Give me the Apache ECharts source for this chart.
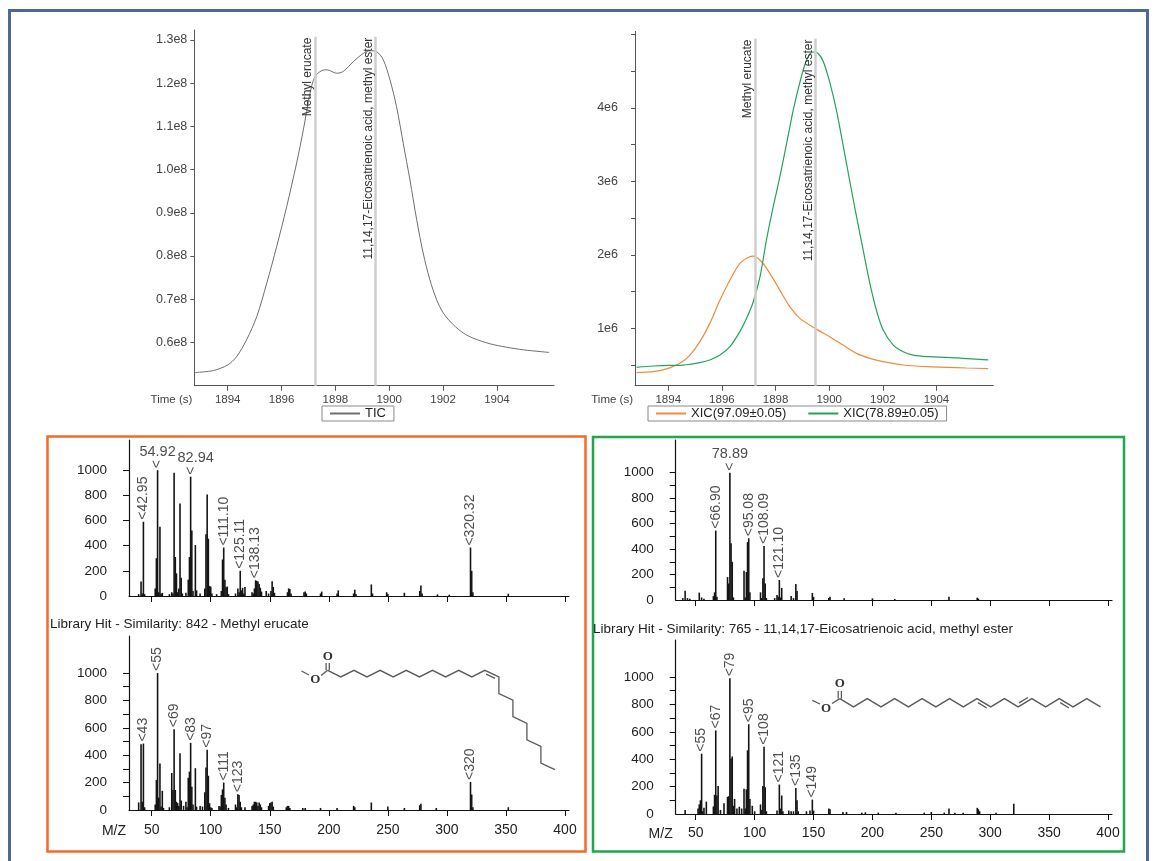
<!DOCTYPE html>
<html><head><meta charset="utf-8">
<script src="https://cdn.jsdelivr.net/npm/echarts@6/dist/echarts.min.js"></script>
<style>html,body{margin:0;padding:0;background:#fff}#c{width:1156px;height:861px}</style>
</head><body><div id="c"></div>
<script>
// ---------- chromatograms ----------
const ticTime = [1892.79,1893.47,1894.0,1894.33,1894.7,1895.08,1895.45,1895.82,1896.19,1896.56,1896.81,1897.06,1897.24,1897.49,1897.68,1898.05,1898.29,1898.67,1899.04,1899.28,1899.53,1899.78,1900.03,1900.27,1900.52,1900.77,1901.02,1901.26,1901.51,1901.76,1902.01,1902.38,1902.75,1903.12,1903.74,1904.36,1904.98,1905.6,1905.94];
const ticValue = [0.5305,0.535,0.548,0.567,0.606,0.66,0.737,0.822,0.914,1.015,1.092,1.177,1.215,1.229,1.231,1.223,1.227,1.25,1.269,1.275,1.273,1.254,1.207,1.146,1.061,0.976,0.884,0.807,0.745,0.699,0.668,0.641,0.622,0.610,0.597,0.589,0.583,0.579,0.577]; // x1e8

const xic97Time = [1892.82,1893.44,1894.0,1894.43,1894.81,1895.18,1895.55,1895.93,1896.30,1896.67,1896.98,1897.17,1897.48,1897.79,1898.16,1898.53,1898.91,1899.47,1900.02,1900.52,1901.02,1901.52,1902.01,1902.76,1903.63,1904.37,1905.12,1905.93];
const xic97Value = [0.397,0.411,0.456,0.524,0.637,0.819,1.068,1.385,1.657,1.884,1.965,1.983,1.906,1.748,1.521,1.295,1.136,1.0,0.887,0.773,0.66,0.592,0.547,0.502,0.479,0.470,0.461,0.452]; // x1e6

const xic78Time = [1892.82,1893.44,1894.0,1894.43,1894.81,1895.18,1895.55,1895.93,1896.30,1896.67,1896.92,1897.17,1897.42,1897.66,1897.91,1898.16,1898.41,1898.66,1898.91,1899.16,1899.40,1899.59,1899.78,1900.02,1900.27,1900.52,1900.77,1901.02,1901.27,1901.52,1901.76,1902.01,1902.39,1902.76,1903.13,1903.75,1904.37,1904.99,1905.61,1905.93];
const xic78Value = [0.47,0.488,0.497,0.497,0.511,0.533,0.57,0.637,0.751,0.955,1.136,1.362,1.70,2.2,2.65,3.06,3.51,3.97,4.35,4.65,4.76,4.74,4.63,4.35,3.97,3.49,3.0,2.52,2.06,1.61,1.25,0.98,0.773,0.683,0.637,0.615,0.606,0.592,0.579,0.57]; // x1e6

const markerTimes = [1897.24, 1899.48];
const markerNames = ['Methyl erucate', '11,14,17-Eicosatrienoic acid, methyl ester'];

const timeTicks = [1894,1896,1898,1900,1902,1904];
const ticTicks = [0.6,0.7,0.8,0.9,1.0,1.1,1.2,1.3];
const xicTicks = [0.5,1,1.5,2,2.5,3,3.5,4,4.5,5];
const xicTickLabels = [1,2,3,4];

// ---------- mass spectra [m/z, intensity] ----------
const erucateMeasured = [[39,15],[41,115],[42,20],[43,590],[44,15],[53,60],[54,300],[55,1000],[56,30],[57,550],[58,20],[59,25],[65,15],[67,30],[68,20],[69,980],[70,310],[71,180],[72,30],[73,60],[74,735],[75,145],[76,20],[79,25],[81,130],[82,310],[83,948],[84,520],[85,40],[87,405],[88,45],[91,20],[95,60],[96,490],[97,806],[98,455],[99,80],[100,75],[101,20],[105,15],[109,40],[110,290],[111,385],[112,130],[113,70],[114,75],[115,15],[121,20],[123,60],[124,30],[125,200],[126,45],[127,65],[128,20],[129,72],[135,30],[136,20],[137,60],[138,125],[139,120],[140,115],[141,95],[142,65],[143,35],[147,40],[149,20],[151,40],[152,118],[153,72],[154,25],[165,30],[166,60],[167,55],[168,20],[179,30],[180,35],[181,20],[193,20],[194,35],[207,20],[208,45],[221,20],[222,50],[223,15],[236,92],[237,20],[249,30],[250,15],[264,26],[277,40],[278,84],[279,20],[292,13],[302,10],[320,385],[321,200],[322,30],[352,18]];
const erucateMeasuredRot = [[43,'42.95'],[111,'111.10'],[125,'125.11'],[138,'138.13'],[320,'320.32']];
const erucateMeasuredHor = [[55,'54.92'],[83,'82.94']];

const erucateLibrary = [[39,55],[41,480],[42,60],[43,485],[44,20],[53,40],[54,220],[55,1000],[56,90],[57,340],[58,25],[59,140],[60,15],[65,20],[67,270],[68,146],[69,590],[70,146],[71,60],[72,50],[73,30],[74,415],[75,70],[77,30],[79,60],[80,20],[81,235],[82,280],[83,490],[84,170],[85,40],[87,305],[88,25],[91,30],[93,25],[95,130],[96,310],[97,440],[98,250],[99,50],[100,20],[101,15],[107,30],[108,25],[109,110],[110,150],[111,200],[112,90],[113,40],[115,15],[121,40],[122,20],[123,115],[124,110],[125,60],[126,20],[129,20],[135,30],[136,40],[137,60],[138,60],[139,55],[140,30],[141,55],[142,40],[143,20],[149,30],[150,50],[151,55],[152,60],[153,25],[164,20],[165,30],[166,30],[167,15],[178,15],[180,15],[193,15],[207,15],[221,30],[222,20],[236,55],[250,25],[264,15],[277,35],[278,45],[291,15],[320,205],[321,113],[322,20],[352,20]];
const erucateLibraryRot = [[43,'43'],[55,'55'],[69,'69'],[83,'83'],[97,'97'],[111,'111'],[123,'123'],[320,'320']];
const erucateLibraryHor = [];

const eicosaMeasured = [[39,15],[41,73],[43,15],[45,10],[53,58],[55,20],[57,10],[65,30],[66,60],[67,545],[68,25],[77,180],[78,130],[79,1000],[80,445],[81,300],[82,20],[91,230],[92,20],[93,220],[94,455],[95,485],[96,60],[105,60],[106,15],[107,170],[108,425],[109,130],[110,15],[117,15],[119,40],[120,25],[121,157],[122,20],[123,95],[131,31],[133,15],[135,125],[136,70],[149,55],[150,25],[163,15],[164,26],[176,13],[200,13],[219,8],[265,26],[289,18],[290,10]];
const eicosaMeasuredRot = [[67,'66.90'],[95,'95.08'],[108,'108.09'],[121,'121.10']];
const eicosaMeasuredHor = [[79,'78.89']];

const eicosaLibrary = [[41,30],[52,41],[53,70],[54,100],[55,440],[56,20],[57,45],[59,90],[65,55],[66,140],[67,610],[68,135],[69,205],[71,30],[74,78],[77,125],[78,130],[79,990],[80,405],[81,420],[82,60],[83,110],[85,40],[87,53],[89,40],[91,185],[92,40],[93,180],[94,465],[95,655],[96,110],[98,60],[100,20],[105,70],[106,30],[107,205],[108,490],[109,195],[110,20],[119,25],[121,215],[122,40],[123,135],[124,20],[129,25],[131,20],[133,20],[135,190],[136,100],[137,20],[144,20],[147,25],[149,105],[150,25],[163,40],[164,35],[175,15],[178,15],[191,10],[194,12],[205,10],[220,10],[244,10],[250,15],[261,10],[265,40],[270,10],[277,10],[289,45],[290,35],[291,20],[305,10],[320,75]];
const eicosaLibraryRot = [[55,'55'],[67,'67'],[79,'79'],[95,'95'],[108,'108'],[121,'121'],[135,'135'],[149,'149']];
const eicosaLibraryHor = [];

const mzTicks = [50,100,150,200,250,300,350,400];
const intLabels = [0,200,400,600,800,1000];
const intTicksCoarse = [200,400,600,800,1000];
const intTicksFine = [100,200,300,400,500,600,700,800,900,1000];

const titleLeft = 'Library Hit - Similarity: 842 - Methyl erucate';
const titleRight = 'Library Hit - Similarity: 765 - 11,14,17-Eicosatrienoic acid, methyl ester';

// ---------- build ----------
const FONT = '"Liberation Sans", Arial, sans-serif';
const horizOffset = {'82.94':[5,0]};
const plain = v => String(v);

const grids = [
  {left:194.3, top:30, width:359.7, height:355.7},
  {left:635, top:31.4, width:358.3, height:354.3},
  {left:129, top:440, width:440, height:156},
  {left:129, top:636, width:440, height:174},
  {left:675.7, top:440, width:436.3, height:160},
  {left:675.7, top:640, width:436.3, height:174}
];

function timeAxis(gi){
  return {type:'value', gridIndex:gi, min:1892.76, max:1906.12,
    axisLine:{show:true, onZero:false, lineStyle:{color:'#555', width:1}},
    axisTick:{show:true, customValues:timeTicks, length:5, lineStyle:{color:'#555'}},
    axisLabel:{customValues:timeTicks, formatter:plain, fontSize:11.5, color:'#444', margin:8, fontFamily:FONT},
    splitLine:{show:false},
    name:'Time (s)', nameLocation:'start', nameGap:2,
    nameTextStyle:{fontSize:11.5, color:'#444', fontFamily:FONT, verticalAlign:'top', padding:[8,0,0,0]}};
}

const xAxes = [timeAxis(0), timeAxis(1)];
const yAxes = [
  {type:'value', gridIndex:0, min:0.5, max:1.323,
    axisLine:{show:true, lineStyle:{color:'#555'}},
    axisTick:{show:true, customValues:ticTicks, length:4, lineStyle:{color:'#555'}},
    axisLabel:{customValues:ticTicks, formatter:v=>v.toFixed(1)+'e8', fontSize:12.5, color:'#444', margin:7, fontFamily:FONT},
    splitLine:{show:false}},
  {type:'value', gridIndex:1, min:0.22, max:5.04,
    axisLine:{show:true, lineStyle:{color:'#555'}},
    axisTick:{show:true, customValues:xicTicks, length:4, lineStyle:{color:'#555'}},
    axisLabel:{customValues:xicTickLabels, formatter:v=>v+'e6', fontSize:12.5, color:'#444', margin:17, fontFamily:FONT},
    splitLine:{show:false}}
];

function markLineFor(bottom, top){
  return {symbol:['none','none'], silent:true, animation:false,
    lineStyle:{color:'#cfcfcf', width:2.5, type:'solid'},
    label:{show:true, position:'insideEndTop', distance:1, formatter:'{b}', color:'#333', fontSize:12, fontFamily:FONT},
    data: markerTimes.map((t,i)=>[{coord:[t, bottom], name:markerNames[i]}, {coord:[t, top]}])};
}

const series = [
  {name:'TIC', type:'line', xAxisIndex:0, yAxisIndex:0, showSymbol:false, smooth:0.3,
    data: ticTime.map((t,i)=>[t, ticValue[i]]), lineStyle:{color:'#6e6e6e', width:1}, itemStyle:{color:'#6e6e6e'},
    markLine: markLineFor(0.5, 1.3076)},
  {name:'XIC(97.09±0.05)', type:'line', xAxisIndex:1, yAxisIndex:1, showSymbol:false, smooth:0.3,
    data: xic97Time.map((t,i)=>[t, xic97Value[i]]), lineStyle:{color:'#f28a3c', width:1.2}, itemStyle:{color:'#f28a3c'}, z:3},
  {name:'XIC(78.89±0.05)', type:'line', xAxisIndex:1, yAxisIndex:1, showSymbol:false, smooth:0.3,
    data: xic78Time.map((t,i)=>[t, xic78Value[i]]), lineStyle:{color:'#22a45a', width:1.2}, itemStyle:{color:'#22a45a'}, z:3,
    markLine: markLineFor(0.22, 4.944)}
];

const specs = [
  {gi:2, min:30.8, max:403.4, ymax:1240, data:erucateMeasured, rot:erucateMeasuredRot, hor:erucateMeasuredHor, ticks:intTicksCoarse, xlabels:false},
  {gi:3, min:30.8, max:403.4, ymax:1270, data:erucateLibrary, rot:erucateLibraryRot, hor:erucateLibraryHor, ticks:intTicksFine, xlabels:true, margin:13},
  {gi:4, min:33, max:403.4, ymax:1257, data:eicosaMeasured, rot:eicosaMeasuredRot, hor:eicosaMeasuredHor, ticks:intTicksFine, xlabels:false},
  {gi:5, min:33, max:403.4, ymax:1270, data:eicosaLibrary, rot:eicosaLibraryRot, hor:eicosaLibraryHor, ticks:intTicksFine, xlabels:true, margin:12}
];

specs.forEach((s, k)=>{
  const ai = 2 + k;
  xAxes.push({type:'value', gridIndex:s.gi, min:s.min, max:s.max,
    axisLine:{show:true, onZero:false, lineStyle:{color:'#111', width:1.2}},
    axisTick:{show:true, customValues:mzTicks, length:6, lineStyle:{color:'#111'}},
    axisLabel:{show:s.xlabels, customValues:mzTicks, formatter:plain, fontSize:14, color:'#222', margin:s.margin||12, fontFamily:FONT},
    splitLine:{show:false},
    name: s.xlabels ? 'M/Z' : '', nameLocation:'start', nameGap:3,
    nameTextStyle:{fontSize:14, color:'#222', fontFamily:FONT, verticalAlign:'top', padding:[(s.margin||12)+1,0,0,0]}});
  yAxes.push({type:'value', gridIndex:s.gi, min:0, max:s.ymax,
    axisLine:{show:true, lineStyle:{color:'#111', width:1.2}},
    axisTick:{show:true, customValues:s.ticks, length:6, lineStyle:{color:'#111'}},
    axisLabel:{customValues:intLabels, formatter:plain, fontSize:13.5, color:'#222', margin:22, fontFamily:FONT},
    splitLine:{show:false}});
  const lookup = mz => (s.data.find(p=>p[0]===mz)||[mz,0])[1];
  series.push({name:'spec'+k, type:'bar', xAxisIndex:ai, yAxisIndex:ai, barWidth:1.6, silent:true,
    itemStyle:{color:'#151515'}, data:s.data});
  const rotItems = s.rot.map(([mz,t])=>({value:[mz, lookup(mz)], name:'<'+t}))
    .concat(s.hor.map(([mz,t])=>({value:[mz, lookup(mz)], name:'<'})));
  series.push({name:'rot'+k, type:'scatter', xAxisIndex:ai, yAxisIndex:ai, symbolSize:0, silent:true, z:5,
    data: rotItems,
    label:{show:true, position:'top', distance:2, rotate:90, align:'left', verticalAlign:'middle',
      formatter:p=>p.name, fontSize:14, color:'#222', fontFamily:FONT}});
  if (s.hor.length){
    series.push({name:'hor'+k, type:'scatter', xAxisIndex:ai, yAxisIndex:ai, symbolSize:0, silent:true, z:5,
      data: s.hor.map(([mz,t])=>({value:[mz, lookup(mz)], name:t, label:{offset: horizOffset[t]||[0,0]}})),
      label:{show:true, position:'top', distance:11, formatter:p=>p.name, fontSize:14.5, color:'#222', fontFamily:FONT}});
  }
});

// ---------- decoration: frames and structures ----------
const LINE = '#5a5a5a';
function pl(points, w){ return {type:'polyline', shape:{points}, style:{stroke:LINE, lineWidth:w||1.3, fill:null}, silent:true, z:10}; }
function oText(x,y){ return {type:'text', x, y, style:{text:'O', font:'bold 13px "Liberation Serif", "DejaVu Serif", serif', fill:'#333', align:'center', verticalAlign:'middle'}, silent:true, z:10}; }
function innerBond(a, b, off){
  const dx=b[0]-a[0], dy=b[1]-a[1], L=Math.hypot(dx,dy);
  const nx=-dy/L*off, ny=dx/L*off;
  const t0=0.18, t1=0.82;
  return pl([[a[0]+dx*t0+nx, a[1]+dy*t0+ny],[a[0]+dx*t1+nx, a[1]+dy*t1+ny]]);
}

const els = [
  {type:'rect', shape:{x:9.5,y:10.5,width:1138,height:900}, style:{fill:'none', stroke:'#4e6796', lineWidth:3}, silent:true},
  {type:'rect', shape:{x:47.5,y:436.5,width:538,height:415}, style:{fill:'none', stroke:'#f26b2a', lineWidth:2.5}, silent:true},
  {type:'rect', shape:{x:593,y:437,width:531,height:414.5}, style:{fill:'none', stroke:'#22a64c', lineWidth:2.5}, silent:true}
];

// left structure: methyl erucate
(function(){
  const x0=327.7, yU=670.3, yD=676.9, dx=13.1;
  const pts=[];
  for(let i=0;i<13;i++) pts.push([x0+i*dx, i%2===0?yU:yD]);
  let cx = x0+12*dx+14, cy = yD;
  pts.push([cx,cy]);
  for(let k=0;k<8;k++){ if(k%2===0){cy+=16.6;} else {cx+=14; cy+=6.6;} pts.push([cx,cy]); }
  els.push(pl(pts));
  els.push(innerBond(pts[12], pts[13], 3));
  els.push(pl([[301.5,671],[309,675]]));
  els.push(pl([[321,675.5],[x0,yU]]));
  els.push(pl([[x0-1.6,yU],[x0-1.6,663]]));
  els.push(pl([[x0+1.6,yU],[x0+1.6,663]]));
  els.push(oText(x0,656.5));
  els.push(oText(315.4,679.5));
})();

// right structure: 11,14,17-eicosatrienoic acid methyl ester
(function(){
  const x0=839.8, yU=698.6, yD=706.9, dx=13.72;
  const pts=[];
  for(let i=0;i<20;i++) pts.push([x0+i*dx, i%2===0?yU:yD]);
  els.push(pl(pts));
  els.push(innerBond(pts[10], pts[11], 3));
  els.push(innerBond(pts[13], pts[14], -3));
  els.push(innerBond(pts[16], pts[17], 3));
  els.push(pl([[812.3,700.3],[820,704]]));
  els.push(pl([[832,703.5],[x0,yU]]));
  els.push(pl([[x0-1.6,yU],[x0-1.6,691]]));
  els.push(pl([[x0+1.6,yU],[x0+1.6,691]]));
  els.push(oText(x0,684));
  els.push(oText(826,708.5));
})();

const legendCommon = {orient:'horizontal', padding:[1,8], itemGap:22, itemWidth:30, itemHeight:2, icon:'rect',
  borderColor:'#8a8a8a', borderWidth:1, borderRadius:0, backgroundColor:'#fff', selectedMode:false,
  textStyle:{fontSize:13, color:'#222', fontFamily:FONT}};

const option = {
  animation:false,
  textStyle:{fontFamily:FONT},
  grid: grids,
  xAxis: xAxes,
  yAxis: yAxes,
  series: series,
  legend: [
    Object.assign({}, legendCommon, {data:[{name:'TIC', itemStyle:{color:'#6e6e6e'}}], left:322, top:406}),
    Object.assign({}, legendCommon, {data:[{name:'XIC(97.09±0.05)', itemStyle:{color:'#f28a3c'}},{name:'XIC(78.89±0.05)', itemStyle:{color:'#22a45a'}}], left:648, top:406})
  ],
  title: [
    {text:titleLeft, left:50, top:617, padding:0, textStyle:{fontSize:13.5, fontWeight:'normal', color:'#222', fontFamily:FONT}},
    {text:titleRight, left:593, top:622, padding:0, textStyle:{fontSize:13.5, fontWeight:'normal', color:'#222', fontFamily:FONT}}
  ],
  graphic: {elements: els}
};

const chart = echarts.init(document.getElementById('c'), null, {renderer:'canvas'});
chart.setOption(option);
</script></body></html>
